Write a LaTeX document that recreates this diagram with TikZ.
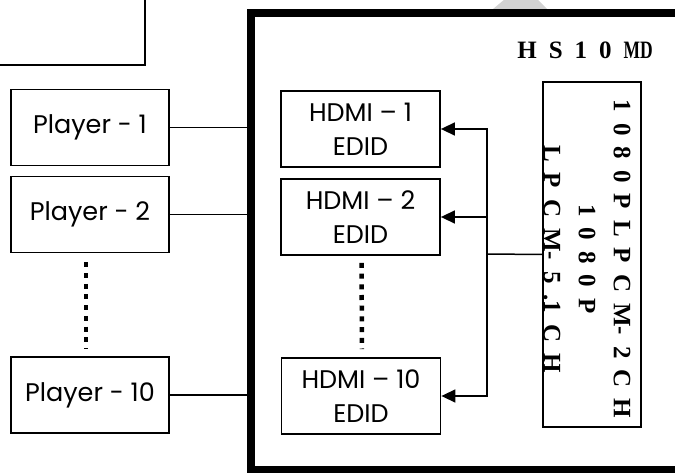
\documentclass[tikz,border=0pt]{standalone}
\usepackage{graphicx}
\usepackage{fontspec}
\setmainfont{Poppins}
\newfontfamily\modelfont{Liberation Serif}
\newcommand\widesp[1]{\spaceskip=#1\relax}
\usetikzlibrary{arrows.meta}

\begin{document}
\begin{tikzpicture}[
    x=1pt,
    y=-1pt,
    box/.style={
      draw,
      line width=1.8pt,
      align=center,
      inner sep=0pt,
      font=\fontsize{25.5}{34}\selectfont
    },
    player/.style={box, minimum width=158pt, minimum height=76pt},
    edidbox/.style={box, minimum width=159pt, minimum height=76pt},
    srcbox/.style={draw, line width=1.8pt, minimum width=98pt, minimum height=345pt},
    frame/.style={line width=8pt},
    wire/.style={line width=1.5pt},
    flow/.style={wire, -{Triangle[length=14pt,width=13pt]}},
    dots/.style={line width=4.5pt, dash pattern=on 5pt off 5.7pt},
    label/.style={font=\modelfont\bfseries\fontsize{25}{35}\selectfont, inner sep=0pt, align=center}
  ]
  \useasboundingbox (0,0) rectangle (675,473);
  \clip (0,0) rectangle (675,473);

  \fill[gray!35] (493,9) -- (505,-1) -- (537,-1) -- (547,9) -- cycle;
  \node[draw, line width=1.8pt, minimum width=300pt, minimum height=120pt,
    anchor=south east] (topbox) at (146,66) {};

  \coordinate (frameNW) at (250.5,13);
  \coordinate (frameSE) at (700,470);
  \draw[frame] (frameNW) rectangle (frameSE);

  \node[label, anchor=east] (model) at (653,50)
    {\widesp{12pt}H S 1 0 \scalebox{0.7}[1]{MD}};

  \node[player] (player1) at (90,127.5) {Player - 1};
  \node[player] (player2) at (90,214.5) {Player - 2};
  \node[player] (player10) at (90,395) {Player - 10};

  \node[edidbox] (hdmi1) at (360.5,129) {HDMI – 1\\EDID};
  \node[edidbox] (hdmi2) at (360.5,217) {HDMI – 2\\EDID};
  \node[edidbox] (hdmi10) at (361,396) {HDMI – 10\\EDID};

  \node[srcbox] (edid) at (592,254.5) {};
  \node[label, rotate=-90] (ediddata) at (587,259)
    {\widesp{11pt}1 0 8 0 P L P C M- 2 C H\\
     \widesp{11pt}1 0 8 0 P\\
     \widesp{11pt}L P C M- 5 .1 C H};

  \draw[wire] (player1.east) -- (player1.east -| frameNW);
  \draw[wire] (player2.east) -- (player2.east -| frameNW);
  \draw[wire] (player10.east) -- (player10.east -| frameNW);
  \draw[dots, shorten <=9pt, shorten >=7pt]
    ([xshift=-4pt]player2.south) -- ([xshift=-4pt]player10.north);
  \draw[dots, shorten <=7pt, shorten >=8pt]
    ([xshift=1pt]hdmi2.south) -- ([xshift=1pt]hdmi10.north);

  \coordinate (bus) at (487,254);
  \draw[wire] (edid.west) -- (bus);
  \draw[flow] (bus) |- (hdmi1.east);
  \draw[flow] (bus) |- (hdmi2.east);
  \draw[flow] (bus) |- (hdmi10.east);
\end{tikzpicture}
\end{document}
